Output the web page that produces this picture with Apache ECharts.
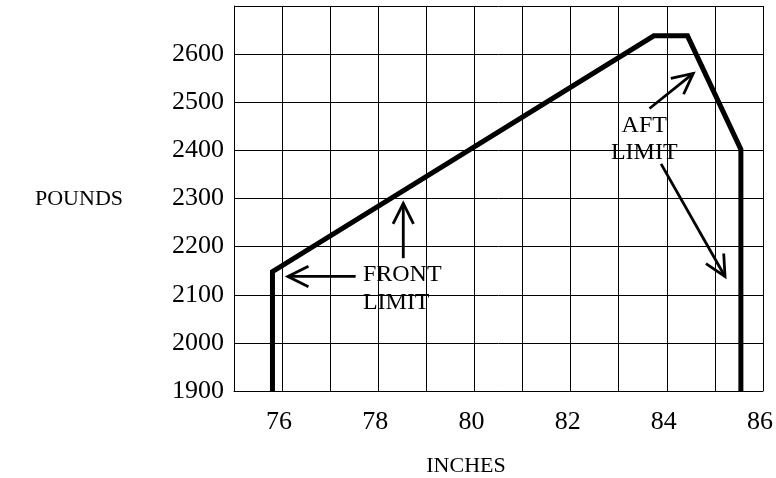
<!DOCTYPE html>
<html>
<head>
<meta charset="utf-8">
<script src="https://cdn.jsdelivr.net/npm/echarts@6/dist/echarts.min.js"></script>
<style>
html,body{margin:0;padding:0;background:#fff;}
#main{width:776px;height:478px;}
</style>
</head>
<body>
<div id="main"></div>
<script>
// Envelope (inches, pounds)
const envelopeX = [75.8, 75.8, 83.73, 84.43, 85.54, 85.54];
const envelopeY = [1900, 2148, 2638, 2638, 2402, 1900];

// Axis ranges / ticks
const xMin = 75, xMax = 86, xStep = 1;
const yMin = 1900, yMax = 2700, yStep = 100;
const xLabelValues = [76, 78, 80, 82, 84, 86];
const yLabelValues = [1900, 2000, 2100, 2200, 2300, 2400, 2500, 2600];

// Annotation arrows [x1, y1, x2, y2] in data units (tail -> head)
const frontArrowLeft = [77.53, 2138, 76.12, 2138];
const frontArrowUp = [78.52, 2176, 78.52, 2290];
const aftArrowUp = [83.64, 2487, 84.55, 2560];
const aftArrowDown = [83.88, 2372, 85.21, 2138];

// Annotation texts
const noteTexts = ['FRONT\nLIMIT', 'AFT\nLIMIT'];
const noteX = [77.68, 83.53];
const noteY = [2113, 2423];
const noteAlign = ['left', 'center'];

const axisTitleY = 'POUNDS';
const axisTitleX = 'INCHES';

const FONT = '"Liberation Serif", "Times New Roman", serif';

const chart = echarts.init(document.getElementById('main'), null, {renderer: 'canvas'});

function renderArrow(params, api) {
  const p1 = api.coord([api.value(0), api.value(1)]);
  const p2 = api.coord([api.value(2), api.value(3)]);
  const ang = Math.atan2(p2[1] - p1[1], p2[0] - p1[0]);
  const L = 23, a = 0.46;
  const w1 = [p2[0] - L * Math.cos(ang - a), p2[1] - L * Math.sin(ang - a)];
  const w2 = [p2[0] - L * Math.cos(ang + a), p2[1] - L * Math.sin(ang + a)];
  return {
    type: 'group',
    children: [
      {type: 'line', shape: {x1: p1[0], y1: p1[1], x2: p2[0], y2: p2[1]}, style: {stroke: '#000', lineWidth: 2.8}},
      {type: 'polyline', shape: {points: [w1, p2, w2]}, style: {stroke: '#000', lineWidth: 2.8, fill: null}}
    ]
  };
}

function renderNote(params, api) {
  const i = params.dataIndex;
  const p = api.coord([api.value(0), api.value(1)]);
  return {
    type: 'text',
    x: p[0], y: p[1],
    style: {
      text: noteTexts[i],
      font: '24px ' + FONT,
      fill: '#000',
      align: noteAlign[i],
      verticalAlign: 'middle',
      lineHeight: 27.5
    }
  };
}

const option = {
  backgroundColor: '#fff',
  animation: false,
  grid: {left: 234, right: 13, top: 6, bottom: 87, containLabel: false},
  xAxis: {
    type: 'value',
    min: xMin, max: xMax, interval: xStep,
    axisLine: {show: true, onZero: false, lineStyle: {color: '#000', width: 1}},
    axisTick: {show: false},
    splitLine: {show: true, lineStyle: {color: '#000', width: 1}},
    axisLabel: {
      color: '#000', fontFamily: FONT, fontSize: 26, margin: 18,
      padding: [0, 6, 0, 0],
      formatter: v => xLabelValues.indexOf(v) >= 0 ? String(v) : ''
    }
  },
  yAxis: {
    type: 'value',
    min: yMin, max: yMax, interval: yStep,
    axisLine: {show: true, lineStyle: {color: '#000', width: 1}},
    axisTick: {show: false},
    splitLine: {show: true, lineStyle: {color: '#000', width: 1}},
    axisLabel: {
      color: '#000', fontFamily: FONT, fontSize: 26, margin: 10,
      verticalAlign: 'middle', padding: [0, 0, 12, 0],
      formatter: v => yLabelValues.indexOf(v) >= 0 ? String(v) : ''
    }
  },
  graphic: [
    {type: 'text', x: 79, y: 199, style: {text: axisTitleY, font: '22px ' + FONT, fill: '#000', align: 'center', verticalAlign: 'middle'}},
    {type: 'text', x: 466, y: 466, style: {text: axisTitleX, font: '22px ' + FONT, fill: '#000', align: 'center', verticalAlign: 'middle'}}
  ],
  series: [
    {
      type: 'line',
      data: envelopeX.map((x, i) => [x, envelopeY[i]]),
      symbol: 'none',
      clip: false,
      lineStyle: {color: '#000', width: 5, join: 'miter', cap: 'butt'},
      z: 5
    },
    {
      type: 'custom',
      renderItem: renderArrow,
      clip: false,
      data: [frontArrowLeft, frontArrowUp, aftArrowUp, aftArrowDown],
      z: 6
    },
    {
      type: 'custom',
      renderItem: renderNote,
      clip: false,
      data: noteX.map((x, i) => [x, noteY[i]]),
      z: 7
    }
  ]
};

chart.setOption(option);
</script>
</body>
</html>
